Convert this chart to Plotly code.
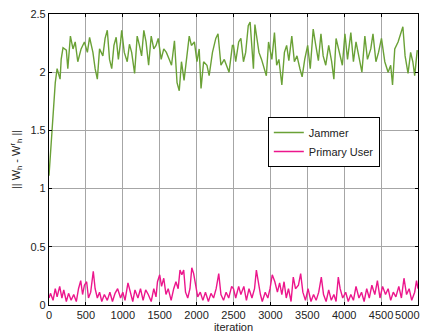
import plotly.graph_objects as go

jammer_iter = [0, 30, 70, 85, 110, 150, 165, 190, 235, 255, 290, 325, 355, 390, 435, 480, 520, 550, 595, 625,
               655, 685, 730, 760, 790, 820, 850, 880, 910, 940, 970, 985, 1020, 1060, 1090, 1120, 1160, 1195, 1225, 1255,
               1285, 1315, 1350, 1385, 1420, 1450, 1480, 1520, 1555, 1590, 1630, 1660, 1700, 1735, 1765, 1795, 1830, 1870, 1900, 1930,
               1970, 2005, 2035, 2060, 2095, 2140, 2170, 2215, 2260, 2290, 2330, 2375, 2440, 2485,
               2500, 2530, 2570, 2600, 2635, 2665, 2700, 2725, 2750, 2770, 2790, 2820, 2845, 2880, 2910, 2945, 2975, 3020, 3055, 3085,
               3115, 3155, 3190, 3220, 3250, 3290, 3325, 3360, 3400, 3430, 3465, 3505, 3540, 3580, 3615, 3650, 3685, 3715, 3750, 3790,
               3830, 3860, 3890, 3930, 3975, 4010, 4045, 4090, 4125, 4160, 4200, 4240, 4280, 4315, 4360, 4390, 4430, 4465, 4505, 4550,
               4595, 4630, 4655, 4685, 4730, 4765, 4795, 4825, 4865, 4900, 4930, 4955, 4990]
jammer_val = [1.11, 1.37, 1.74, 1.91, 2.03, 1.94, 2.11, 2.21, 2.19, 2.03, 2.31, 2.20, 2.26, 2.09, 2.20, 2.26, 2.17, 2.30, 2.17, 2.03,
              1.94, 2.20, 2.14, 2.29, 2.36, 2.11, 2.03, 2.23, 2.30, 2.11, 2.26, 2.36, 2.17, 2.09, 2.24, 2.17, 1.99, 2.31, 2.23, 2.14,
              2.36, 2.26, 2.06, 2.31, 2.20, 2.23, 2.29, 2.11, 2.20, 2.17, 2.11, 2.06, 2.27, 1.91, 1.84, 2.09, 1.93, 2.14, 2.31, 2.23,
              2.26, 2.09, 2.20, 1.86, 2.09, 2.06, 1.97, 2.17, 2.29, 2.33, 2.06, 2.11, 2.00, 2.23,
              2.23, 2.09, 2.26, 2.29, 2.09, 2.17, 2.40, 2.43, 2.17, 2.03, 2.41, 2.26, 2.17, 2.11, 2.04, 1.97, 2.26, 2.11, 2.34, 2.06,
              2.11, 1.89, 2.17, 2.23, 2.10, 2.31, 2.09, 2.14, 2.03, 1.96, 2.11, 2.23, 2.03, 2.37, 2.23, 2.10, 2.33, 2.14, 2.06, 2.23,
              2.09, 1.94, 2.29, 2.17, 2.06, 2.33, 2.11, 2.34, 2.09, 2.26, 2.14, 2.00, 2.31, 2.11, 2.20, 2.33, 2.09, 2.17, 2.29, 2.09,
              2.00, 2.06, 1.89, 2.20, 2.26, 2.34, 2.39, 2.14, 1.99, 2.17, 2.09, 1.97, 2.19]

pu_iter = [0, 20, 55, 85, 110, 145, 175, 200, 235, 265, 300, 335, 370, 400, 430, 455, 480, 510, 535, 565,
           600, 625, 655, 685, 715, 750, 790, 825, 860, 895, 930, 970, 1000, 1030, 1070, 1105, 1135, 1165, 1205, 1240,
           1275, 1310, 1345, 1385, 1420, 1450, 1470, 1500, 1525, 1555, 1585, 1615, 1655, 1690, 1720, 1750, 1775, 1800, 1825, 1850,
           1880, 1910, 1935, 1960, 1985, 2015, 2050, 2085, 2120, 2160, 2195, 2230, 2265, 2300, 2330, 2365, 2400, 2435, 2475,
           2500, 2530, 2570, 2600, 2640, 2675, 2710, 2750, 2785, 2810, 2835, 2865, 2890, 2930, 2965, 2995, 3025, 3060, 3095, 3125,
           3155, 3185, 3215, 3245, 3280, 3310, 3340, 3380, 3410, 3440, 3475, 3510, 3550, 3585, 3620, 3655, 3690, 3720, 3755, 3790,
           3825, 3860, 3890, 3920, 3945, 3980, 4020, 4055, 4090, 4125, 4160, 4200, 4235, 4270, 4305, 4340, 4375, 4415, 4450, 4485,
           4520, 4560, 4595, 4630, 4665, 4700, 4740, 4775, 4810, 4845, 4880, 4915, 4955, 4980, 5000]
pu_val = [0.06, 0.10, 0.04, 0.14, 0.07, 0.16, 0.06, 0.13, 0.03, 0.10, 0.04, 0.09, 0.03, 0.14, 0.21, 0.09, 0.17, 0.20, 0.06, 0.11,
          0.29, 0.14, 0.06, 0.11, 0.03, 0.09, 0.04, 0.11, 0.03, 0.10, 0.14, 0.06, 0.11, 0.04, 0.19, 0.09, 0.03, 0.13, 0.06, 0.14,
          0.04, 0.13, 0.09, 0.03, 0.14, 0.07, 0.20, 0.26, 0.16, 0.23, 0.09, 0.14, 0.04, 0.14, 0.20, 0.14, 0.30, 0.26, 0.30, 0.11,
          0.06, 0.14, 0.32, 0.27, 0.17, 0.07, 0.11, 0.04, 0.11, 0.03, 0.10, 0.06, 0.14, 0.27, 0.09, 0.04, 0.11, 0.06, 0.16,
          0.14, 0.06, 0.16, 0.09, 0.16, 0.04, 0.14, 0.06, 0.14, 0.30, 0.20, 0.09, 0.03, 0.11, 0.06, 0.14, 0.26, 0.20, 0.11, 0.19,
          0.09, 0.20, 0.06, 0.14, 0.03, 0.24, 0.14, 0.17, 0.27, 0.11, 0.04, 0.14, 0.03, 0.09, 0.04, 0.11, 0.24, 0.09, 0.03, 0.13,
          0.04, 0.09, 0.03, 0.24, 0.14, 0.06, 0.11, 0.03, 0.09, 0.04, 0.16, 0.06, 0.11, 0.03, 0.14, 0.06, 0.17, 0.09, 0.21, 0.06,
          0.16, 0.09, 0.14, 0.04, 0.11, 0.07, 0.16, 0.06, 0.23, 0.09, 0.14, 0.04, 0.11, 0.21, 0.14]

x_ticks = [0, 500, 1000, 1500, 2000, 2500, 3000, 3500, 4000, 4500, 5000]
# last label padded on the right so it sits inside the figure, as in the reference
x_tick_labels = ["0", "500", "1000", "1500", "2000", "2500", "3000", "3500", "4000", "4500",
                 "5000" + "\u00a0" * 7]
y_ticks = [0, 0.5, 1, 1.5, 2, 2.5]
y_tick_labels = ["0", "0.5", "1", "1.5", "2", "2.5"]

fig = go.Figure()
fig.add_trace(go.Scatter(x=jammer_iter, y=jammer_val, mode="lines", name="Jammer",
                         line=dict(color="#6aa136", width=1.4)))
fig.add_trace(go.Scatter(x=pu_iter, y=pu_val, mode="lines", name="Primary User",
                         line=dict(color="#ec168c", width=1.4)))

axis_common = dict(showline=True, linecolor="black", linewidth=1.2, mirror="ticks",
                   ticks="inside", ticklen=3, tickcolor="black", automargin=False,
                   ticklabeloverflow="allow", tickangle=0,
                   showgrid=True, gridcolor="#a6a6a6", gridwidth=1, zeroline=False,
                   tickfont=dict(family="Liberation Sans, Arial", size=11, color="#222222"))

# The page body has an 8px default margin, so the figure is sized/offset to compensate.
fig.update_layout(
    width=422, height=327,
    margin=dict(l=41, r=12, t=6, b=30),
    paper_bgcolor="white", plot_bgcolor="white",
    font=dict(family="Liberation Sans, Arial", size=11, color="#222222"),
    showlegend=True,
    legend=dict(x=0.593, y=0.646, xanchor="left", yanchor="top",
                bgcolor="white", bordercolor="black", borderwidth=1,
                font=dict(size=11), tracegroupgap=0, itemwidth=30),
    xaxis=dict(range=[0, 5000], tickvals=x_ticks, ticktext=x_tick_labels,
               title=dict(text="iteration", standoff=1, font=dict(size=11)), **axis_common),
    yaxis=dict(range=[0, 2.5], tickvals=y_ticks, ticktext=y_tick_labels,
               title=dict(text="|| W<sub>h</sub> - W<sup>r</sup><sub>h</sub> ||", standoff=8, font=dict(size=11)),
               **axis_common),
)

fig.write_html("out.html")
